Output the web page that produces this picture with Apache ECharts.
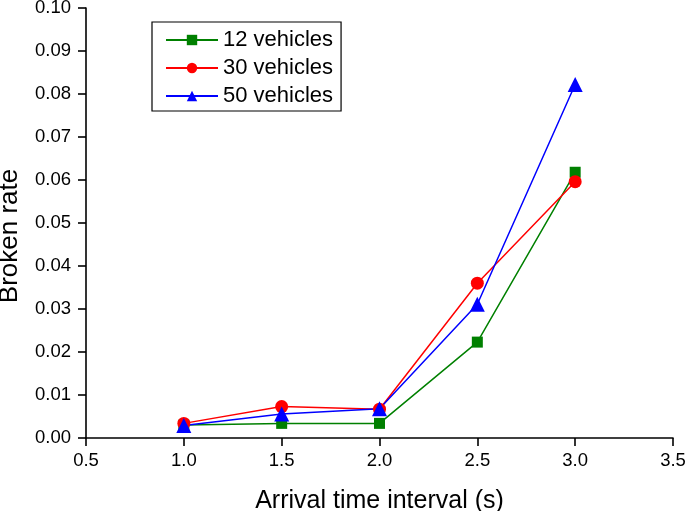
<!DOCTYPE html>
<html><head><meta charset="utf-8">
<script src="https://cdn.jsdelivr.net/npm/echarts@6/dist/echarts.min.js"></script>
<style>html,body{margin:0;padding:0;background:#fff}#c{width:685px;height:511px}</style>
</head><body><div id="c"></div>
<script>
var intervals = [1.0, 1.5, 2.0, 2.5, 3.0];
var seriesNames = ['12 vehicles', '30 vehicles', '50 vehicles'];
var v12 = [0.0030, 0.0034, 0.0034, 0.0223, 0.0618];
var v30 = [0.0034, 0.0073, 0.0067, 0.0360, 0.0596];
var v50 = [0.0029, 0.0056, 0.0068, 0.0311, 0.0822];

function pairs(vals){ return intervals.map(function(x,i){ return [x, vals[i]]; }); }

var chart = echarts.init(document.getElementById('c'), null, {renderer:'canvas'});
var font = 'Arial, "Liberation Sans", sans-serif';
chart.setOption({
  animation:false,
  backgroundColor:'#fff',
  grid:{left:86, right:12, top:8, bottom:73, containLabel:false, outerBoundsMode:'none'},
  legend:{
    orient:'vertical', left:152, top:22,
    data:seriesNames,
    itemWidth:52, itemHeight:13, itemGap:6,
    padding:[7,8,4,13],
    borderColor:'#000', borderWidth:1.2,
    textStyle:{fontSize:22, lineHeight:22, color:'#000', fontFamily:font}
  },
  xAxis:{
    type:'value', min:0.5, max:3.5, interval:0.5,
    name:'Arrival time interval (s)', nameLocation:'middle', nameGap:51,
    nameTextStyle:{fontSize:25, color:'#000', fontFamily:font},
    axisLine:{show:true, lineStyle:{color:'#000', width:1.6}},
    axisTick:{show:true, inside:false, length:8, lineStyle:{color:'#000', width:1.6}},
    axisLabel:{fontSize:18.5, color:'#000', fontFamily:font, margin:13, formatter:function(v){return v.toFixed(1);}},
    splitLine:{show:false}
  },
  yAxis:{
    type:'value', min:0, max:0.10, interval:0.01,
    name:'Broken rate', nameLocation:'middle', nameGap:63,
    nameTextStyle:{fontSize:26, color:'#000', fontFamily:font, padding:[0,26,0,0]},
    axisLine:{show:true, lineStyle:{color:'#000', width:1.6}},
    axisTick:{show:true, inside:false, length:8, lineStyle:{color:'#000', width:1.6}},
    axisLabel:{fontSize:18.5, color:'#000', fontFamily:font, margin:15, formatter:function(v){return v.toFixed(2);}},
    splitLine:{show:false}
  },
  series:[
    {name:seriesNames[0], type:'line', data:pairs(v12), symbol:'rect', symbolSize:11,
     itemStyle:{color:'#008000'}, lineStyle:{color:'#008000', width:1.5}},
    {name:seriesNames[1], type:'line', data:pairs(v30), symbol:'circle', symbolSize:13,
     itemStyle:{color:'#ff0000'}, lineStyle:{color:'#ff0000', width:1.5}},
    {name:seriesNames[2], type:'line', data:pairs(v50), symbol:'triangle', symbolSize:15,
     itemStyle:{color:'#0000ff'}, lineStyle:{color:'#0000ff', width:1.5}}
  ]
});
</script></body></html>
